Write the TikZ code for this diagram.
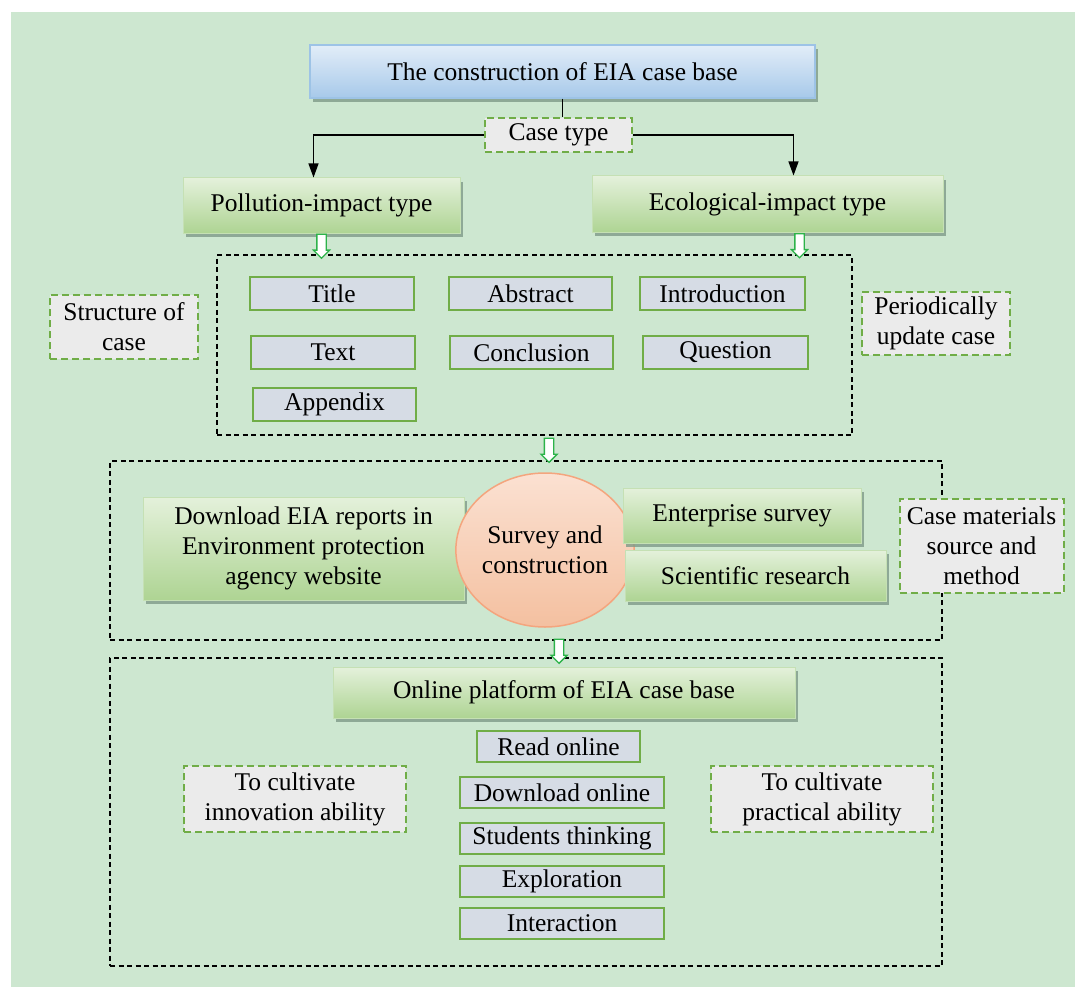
\documentclass[tikz,border=0pt]{standalone}
\usepackage{fontspec}
\setmainfont{Liberation Serif}
\usetikzlibrary{shapes.geometric,shapes.arrows,shadows,arrows.meta}
\definecolor{bgc}{HTML}{CDE7D0}
\definecolor{gtop}{HTML}{E4F1DB}
\definecolor{gbot}{HTML}{AED493}
\definecolor{gborder}{HTML}{C5E0B4}
\definecolor{btop}{HTML}{E2EDF8}
\definecolor{bbot}{HTML}{A7C9EA}
\definecolor{bborder}{HTML}{9DC3E6}
\definecolor{shadowc}{HTML}{7F9A88}
\definecolor{itemfill}{HTML}{D6DCE5}
\definecolor{itemdraw}{HTML}{70AD47}
\definecolor{notefill}{HTML}{EBEBEB}
\definecolor{arrg}{HTML}{2DB34A}
\definecolor{etop}{HTML}{FBE1D2}
\definecolor{ebot}{HTML}{F4C0A0}
\definecolor{edraw}{HTML}{F4A57E}
\begin{document}
\begin{tikzpicture}[x=1pt,y=-1pt,
  every node/.style={font=\fontsize{25.5}{30}\selectfont, align=center, inner sep=0pt},
  gbox/.style={draw=gborder, line width=1pt, top color=gtop, bottom color=gbot,
    drop shadow={shadow xshift=3pt, shadow yshift=-4pt, fill=shadowc, opacity=0.8}},
  bbox/.style={draw=bborder, line width=1.5pt, top color=btop, bottom color=bbot,
    drop shadow={shadow xshift=3pt, shadow yshift=-4pt, fill=shadowc, opacity=0.8}},
  item/.style={draw=itemdraw, fill=itemfill, line width=2pt},
  note/.style={draw=itemdraw, fill=notefill, line width=2pt, dash pattern=on 7pt off 4pt},
  cont/.style={draw=black, line width=1.3pt, dash pattern=on 5pt off 3.5pt},
  harrow/.style={single arrow, shape border rotate=270, draw=arrg, fill=white, line width=1.3pt,
    minimum height=24pt, inner sep=4pt, single arrow head extend=3.5pt, single arrow head indent=0pt},
  conn/.style={draw=black, line width=1.2pt},
  tip/.style={-{Triangle[length=14pt,width=10pt]}}
]
\useasboundingbox (0,0) rectangle (1075,987);
\fill[white] (0,0) rectangle (1075,987);
\fill[bgc] (11,12) rectangle (1075,987);

% containers
\node[cont, minimum width=635pt, minimum height=180pt] (s1) at (534.5,345) {};
\node[cont, minimum width=832pt, minimum height=179pt] (s2) at (526,550.5) {};
\node[cont, minimum width=832pt, minimum height=308pt] (s3) at (526,812) {};

% top part
\node[bbox, minimum width=505pt, minimum height=53pt] (top) at (562.5,71.5) {The construction of EIA case base};
\node[note, minimum width=147pt, minimum height=34pt] (case) at (558.5,135) {Case type};
\node[gbox, minimum width=277pt, minimum height=55pt] (pol) at (321.5,205.5) {Pollution-impact type};
\node[gbox, minimum width=351pt, minimum height=56pt] (eco) at (767.5,204) {Ecological-impact type};

% structure items
\node[item, minimum width=164pt, minimum height=33pt] (title) at (332,293.5) {Title};
\node[item, minimum width=163pt, minimum height=33pt] (abs) at (530.5,293.5) {Abstract};
\node[item, minimum width=165pt, minimum height=33pt] (intro) at (722.5,293.5) {Introduction};
\node[item, minimum width=164pt, minimum height=33pt] (txt) at (333,352.5) {Text};
\node[item, minimum width=163pt, minimum height=33pt] (concl) at (531.5,352.5) {Conclusion};
\node[item, minimum width=165pt, minimum height=33pt] (quest) at (725.5,352.5) {Question};
\node[item, minimum width=163pt, minimum height=33pt] (app) at (334.5,404.5) {Appendix};
\node[note, minimum width=148pt, minimum height=64pt] (struct) at (124,327) {Structure of\\case};
\node[note, minimum width=148pt, minimum height=63pt] (period) at (936,323.5) {Periodically\\update case};

% materials
\node[gbox, minimum width=321pt, minimum height=103pt] (dl) at (303.5,548.5) {Download EIA reports in\\Environment protection\\agency website};
\node[ellipse, draw=edraw, line width=1.5pt, top color=etop, bottom color=ebot,
  minimum width=160pt, minimum height=154pt] (surv) at (545,550) {Survey and\\construction};
\node[gbox, minimum width=238pt, minimum height=55pt] (ent) at (742,515.5) {Enterprise survey};
\node[gbox, minimum width=261pt, minimum height=51pt] (sci) at (755.5,575.5) {Scientific research};
\node[note, minimum width=164pt, minimum height=94pt] (mat) at (981.5,546) {Case materials\\source and\\method};

% online platform
\node[gbox, minimum width=462pt, minimum height=51pt] (online) at (564,692.5) {Online platform of EIA case base};
\node[item, minimum width=163pt, minimum height=31pt] (read) at (558.5,746.5) {Read online};
\node[item, minimum width=204pt, minimum height=31pt] (dlo) at (562,792.5) {Download online};
\node[item, minimum width=204pt, minimum height=31pt] (stud) at (562,838.5) {Students thinking};
\node[item, minimum width=204pt, minimum height=31pt] (expl) at (562,881.5) {Exploration};
\node[item, minimum width=204pt, minimum height=31pt] (inter) at (562,923.5) {Interaction};
\node[note, minimum width=222pt, minimum height=66pt] (innov) at (295,799) {To cultivate\\innovation ability};
\node[note, minimum width=222pt, minimum height=66pt] (pract) at (822,799) {To cultivate\\practical ability};

% connectors
\draw[conn] (top.south) -- (top.south |- case.north);
\draw[conn, tip] (case.west) -| ([xshift=-8pt]pol.north);
\draw[conn, tip] (case.east) -| ([xshift=26pt]eco.north);

\path (pol.south) -- (pol.south |- s1.north) node[harrow, midway] {};
\path ([xshift=32pt]eco.south) -- ([xshift=32pt]eco.south |- s1.north) node[harrow, midway] {};
\path ([xshift=14.5pt]s1.south) -- ([xshift=14.5pt]s1.south |- s2.north) node[harrow, midway] {};
\path ([xshift=33pt]s2.south) -- ([xshift=33pt]s2.south |- s3.north) node[harrow, midway] {};
\end{tikzpicture}
\end{document}
